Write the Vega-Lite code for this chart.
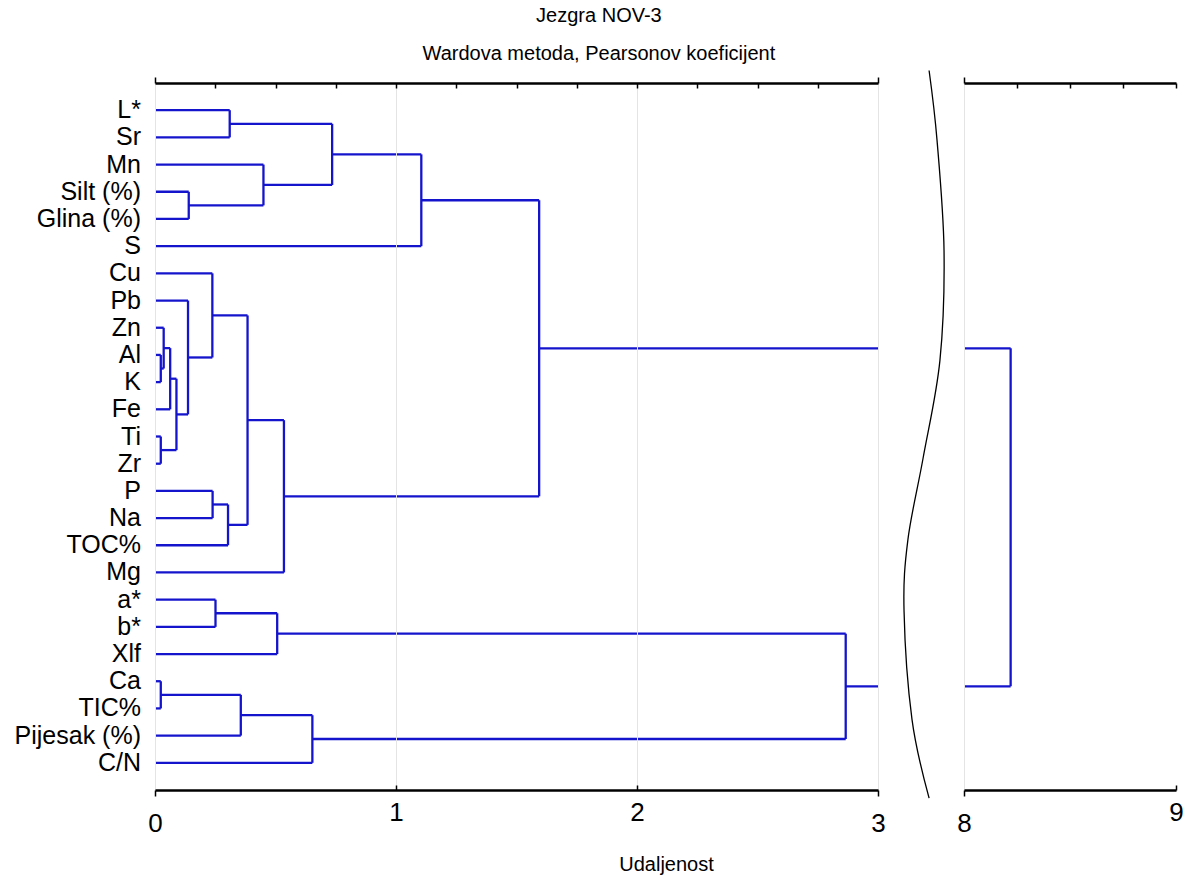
{
  "$schema": "https://vega.github.io/schema/vega-lite/v6.json",
  "padding": {"left": 14, "top": 6, "right": 5, "bottom": 5},
  "background": "white",
  "config": {"view": {"stroke": null}, "font": "Liberation Sans"},
  "title": {
    "text": "Jezgra NOV-3",
    "subtitle": "Wardova metoda, Pearsonov koeficijent",
    "anchor": "middle",
    "font": "Liberation Sans",
    "fontSize": 20,
    "fontWeight": "normal",
    "color": "black",
    "subtitleFont": "Liberation Sans",
    "subtitleFontSize": 20,
    "subtitleColor": "black",
    "subtitlePadding": 18,
    "offset": 3.5
  },
  "datasets": {
    "merges": [
      {"h": 0.31, "y1": 1, "h1": 0, "y2": 2, "h2": 0},
      {"h": 0.14, "y1": 4, "h1": 0, "y2": 5, "h2": 0},
      {"h": 0.45, "y1": 3, "h1": 0, "y2": 4.5, "h2": 0.14},
      {"h": 0.735, "y1": 1.5, "h1": 0.31, "y2": 3.75, "h2": 0.45},
      {"h": 1.105, "y1": 2.625, "h1": 0.735, "y2": 6, "h2": 0},
      {"h": 0.024, "y1": 10, "h1": 0, "y2": 11, "h2": 0},
      {"h": 0.036, "y1": 9, "h1": 0, "y2": 10.5, "h2": 0.024},
      {"h": 0.063, "y1": 9.75, "h1": 0.036, "y2": 12, "h2": 0},
      {"h": 0.024, "y1": 13, "h1": 0, "y2": 14, "h2": 0},
      {"h": 0.089, "y1": 10.875, "h1": 0.063, "y2": 13.5, "h2": 0.024},
      {"h": 0.137, "y1": 8, "h1": 0, "y2": 12.1875, "h2": 0.089},
      {"h": 0.238, "y1": 7, "h1": 0, "y2": 10.09375, "h2": 0.137},
      {"h": 0.239, "y1": 15, "h1": 0, "y2": 16, "h2": 0},
      {"h": 0.303, "y1": 15.5, "h1": 0.239, "y2": 17, "h2": 0},
      {"h": 0.384, "y1": 8.546875, "h1": 0.238, "y2": 16.25, "h2": 0.303},
      {"h": 0.535, "y1": 12.3984375, "h1": 0.384, "y2": 18, "h2": 0},
      {"h": 1.594, "y1": 4.3125, "h1": 1.105, "y2": 15.19921875, "h2": 0.535},
      {"h": 0.251, "y1": 19, "h1": 0, "y2": 20, "h2": 0},
      {"h": 0.507, "y1": 19.5, "h1": 0.251, "y2": 21, "h2": 0},
      {"h": 0.024, "y1": 22, "h1": 0, "y2": 23, "h2": 0},
      {"h": 0.356, "y1": 22.5, "h1": 0.024, "y2": 24, "h2": 0},
      {"h": 0.653, "y1": 23.25, "h1": 0.356, "y2": 25, "h2": 0},
      {"h": 2.866, "y1": 20.25, "h1": 0.507, "y2": 24.125, "h2": 0.653},
      {"h": 8.22, "y1": 9.755859375, "h1": 1.594, "y2": 22.1875, "h2": 2.866}
    ],
    "leaves": [
      {"name": "L*", "pos": 1},
      {"name": "Sr", "pos": 2},
      {"name": "Mn", "pos": 3},
      {"name": "Silt (%)", "pos": 4},
      {"name": "Glina (%)", "pos": 5},
      {"name": "S", "pos": 6},
      {"name": "Cu", "pos": 7},
      {"name": "Pb", "pos": 8},
      {"name": "Zn", "pos": 9},
      {"name": "Al", "pos": 10},
      {"name": "K", "pos": 11},
      {"name": "Fe", "pos": 12},
      {"name": "Ti", "pos": 13},
      {"name": "Zr", "pos": 14},
      {"name": "P", "pos": 15},
      {"name": "Na", "pos": 16},
      {"name": "TOC%", "pos": 17},
      {"name": "Mg", "pos": 18},
      {"name": "a*", "pos": 19},
      {"name": "b*", "pos": 20},
      {"name": "Xlf", "pos": 21},
      {"name": "Ca", "pos": 22},
      {"name": "TIC%", "pos": 23},
      {"name": "Pijesak (%)", "pos": 24},
      {"name": "C/N", "pos": 25}
    ],
    "breakline": [
      {"bx": 3.212, "by": -0.46, "ord": 1},
      {"bx": 3.245, "by": 2.11, "ord": 2},
      {"bx": 3.274, "by": 6.16, "ord": 3},
      {"bx": 3.257, "by": 10.2, "ord": 4},
      {"bx": 3.187, "by": 13.8, "ord": 5},
      {"bx": 3.124, "by": 16.8, "ord": 6},
      {"bx": 3.108, "by": 19.4, "ord": 7},
      {"bx": 3.141, "by": 23.4, "ord": 8},
      {"bx": 3.212, "by": 26.3, "ord": 9}
    ]
  },
  "spacing": 86,
  "bounds": "flush",
  "hconcat": [
    {
      "width": 723,
      "height": 707,
      "resolve": {"axis": {"x": "independent"}},
      "layer": [
        {
          "data": {"name": "merges"},
          "mark": {"type": "rule", "color": "#1414cc", "strokeWidth": 2.3, "clip": true},
          "encoding": {
            "x": {
              "field": "h", "type": "quantitative",
              "scale": {"domain": [0, 3], "nice": false, "zero": false},
              "axis": {
                "orient": "bottom",
                "values": [0, 0.25, 0.5, 0.75, 1, 1.25, 1.5, 1.75, 2, 2.25, 2.5, 2.75, 3],
                "format": "d",
                "labelExpr": "datum.value % 1 === 0 ? datum.label : ''",
                "labelFont": "Liberation Sans", "labelFontSize": 26, "labelColor": "black",
                "labelPadding": 14, "labelFlush": false, "labelOverlap": false,
                "domainColor": "black", "domainWidth": 2.5,
                "tickColor": "black", "tickWidth": 1.5,
                "tickSize": {"condition": {"test": "datum.value === 0 || datum.value === 3", "value": 6}, "value": -5},
                "grid": true, "gridColor": "#e4e4e4", "gridWidth": 1,
                "gridOpacity": {"condition": {"test": "datum.value % 1 === 0", "value": 1}, "value": 0},
                "title": "Udaljenost", "titleX": 511, "titleY": 74, "titleBaseline": "middle",
                "titleFont": "Liberation Sans", "titleFontSize": 20, "titleFontWeight": "normal", "titleColor": "black",
                "zindex": 1
              }
            },
            "y": {
              "field": "y1", "type": "quantitative",
              "scale": {"domain": [0, 26], "nice": false, "zero": false, "reverse": true},
              "axis": {
                "orient": "left", "values": [1,2,3,4,5,6,7,8,9,10,11,12,13,14,15,16,17,18,19,20,21,22,23,24,25],
                "labels": false, "title": null, "grid": false,
                "domainColor": "black", "domainWidth": 2.5,
                "tickColor": "black", "tickWidth": 1.5, "tickSize": -5, "zindex": 1
              }
            },
            "y2": {"field": "y2"}
          }
        },
        {
          "data": {"name": "merges"},
          "mark": {"type": "rule", "color": "#1414cc", "strokeWidth": 2.3, "clip": true},
          "encoding": {
            "x": {
              "field": "h1", "type": "quantitative",
              "scale": {"domain": [0, 3], "nice": false, "zero": false},
              "axis": {
                "orient": "top",
                "values": [0, 0.25, 0.5, 0.75, 1, 1.25, 1.5, 1.75, 2, 2.25, 2.5, 2.75, 3],
                "labels": false, "title": null, "grid": false,
                "domainColor": "black", "domainWidth": 2.5,
                "tickColor": "black", "tickWidth": 1.5,
                "tickSize": {"condition": {"test": "datum.value === 0 || datum.value === 3", "value": 6}, "value": -5},
                "zindex": 1
              }
            },
            "x2": {"field": "h"},
            "y": {"field": "y1", "type": "quantitative", "scale": {"domain": [0, 26], "nice": false, "zero": false, "reverse": true}, "axis": null}
          }
        },
        {
          "data": {"name": "merges"},
          "mark": {"type": "rule", "color": "#1414cc", "strokeWidth": 2.3, "clip": true},
          "encoding": {
            "x": {"field": "h2", "type": "quantitative", "scale": {"domain": [0, 3], "nice": false, "zero": false}, "axis": null},
            "x2": {"field": "h"},
            "y": {"field": "y2", "type": "quantitative", "scale": {"domain": [0, 26], "nice": false, "zero": false, "reverse": true}, "axis": null}
          }
        },
        {
          "data": {"name": "leaves"},
          "mark": {"type": "text", "align": "right", "baseline": "middle", "dx": -14, "font": "Liberation Sans", "fontSize": 25, "color": "black"},
          "encoding": {
            "x": {"datum": 0, "type": "quantitative", "scale": {"domain": [0, 3], "nice": false, "zero": false}, "axis": null},
            "y": {"field": "pos", "type": "quantitative", "scale": {"domain": [0, 26], "nice": false, "zero": false, "reverse": true}, "axis": null},
            "text": {"field": "name"}
          }
        },
        {
          "data": {"name": "breakline"},
          "mark": {"type": "line", "color": "black", "strokeWidth": 1.3, "interpolate": "cardinal", "clip": false},
          "encoding": {
            "x": {"field": "bx", "type": "quantitative", "scale": {"domain": [0, 3], "nice": false, "zero": false}, "axis": null},
            "y": {"field": "by", "type": "quantitative", "scale": {"domain": [0, 26], "nice": false, "zero": false, "reverse": true}, "axis": null},
            "order": {"field": "ord", "type": "quantitative"}
          }
        }
      ]
    },
    {
      "width": 212,
      "height": 707,
      "resolve": {"axis": {"x": "independent"}},
      "layer": [
        {
          "data": {"name": "merges"},
          "mark": {"type": "rule", "color": "#1414cc", "strokeWidth": 2.3, "clip": true},
          "encoding": {
            "x": {
              "field": "h", "type": "quantitative",
              "scale": {"domain": [8, 9], "nice": false, "zero": false},
              "axis": {
                "orient": "bottom",
                "values": [8, 8.25, 8.5, 8.75, 9],
                "format": "d",
                "labelExpr": "datum.value % 1 === 0 ? datum.label : ''",
                "labelFont": "Liberation Sans", "labelFontSize": 26, "labelColor": "black",
                "labelPadding": 14, "labelFlush": false, "labelOverlap": false,
                "domainColor": "black", "domainWidth": 2.5,
                "tickColor": "black", "tickWidth": 1.5,
                "tickSize": {"condition": {"test": "datum.value === 8", "value": 6}, "value": -5},
                "grid": true, "gridColor": "#e4e4e4", "gridWidth": 1,
                "gridOpacity": {"condition": {"test": "datum.value === 8", "value": 1}, "value": 0},
                "title": null, "zindex": 1
              }
            },
            "y": {
              "field": "y1", "type": "quantitative",
              "scale": {"domain": [0, 26], "nice": false, "zero": false, "reverse": true},
              "axis": {
                "orient": "right", "values": [1,2,3,4,5,6,7,8,9,10,11,12,13,14,15,16,17,18,19,20,21,22,23,24,25],
                "labels": false, "title": null, "grid": false,
                "domainColor": "black", "domainWidth": 2.5,
                "tickColor": "black", "tickWidth": 1.5, "tickSize": -5, "zindex": 1
              }
            },
            "y2": {"field": "y2"}
          }
        },
        {
          "data": {"name": "merges"},
          "mark": {"type": "rule", "color": "#1414cc", "strokeWidth": 2.3, "clip": true},
          "encoding": {
            "x": {
              "field": "h1", "type": "quantitative",
              "scale": {"domain": [8, 9], "nice": false, "zero": false},
              "axis": {
                "orient": "top",
                "values": [8, 8.25, 8.5, 8.75, 9],
                "labels": false, "title": null, "grid": false,
                "domainColor": "black", "domainWidth": 2.5,
                "tickColor": "black", "tickWidth": 1.5,
                "tickSize": {"condition": {"test": "datum.value === 8", "value": 6}, "value": -5},
                "zindex": 1
              }
            },
            "x2": {"field": "h"},
            "y": {"field": "y1", "type": "quantitative", "scale": {"domain": [0, 26], "nice": false, "zero": false, "reverse": true}, "axis": null}
          }
        },
        {
          "data": {"name": "merges"},
          "mark": {"type": "rule", "color": "#1414cc", "strokeWidth": 2.3, "clip": true},
          "encoding": {
            "x": {"field": "h2", "type": "quantitative", "scale": {"domain": [8, 9], "nice": false, "zero": false}, "axis": null},
            "x2": {"field": "h"},
            "y": {"field": "y2", "type": "quantitative", "scale": {"domain": [0, 26], "nice": false, "zero": false, "reverse": true}, "axis": null}
          }
        }
      ]
    }
  ]
}
